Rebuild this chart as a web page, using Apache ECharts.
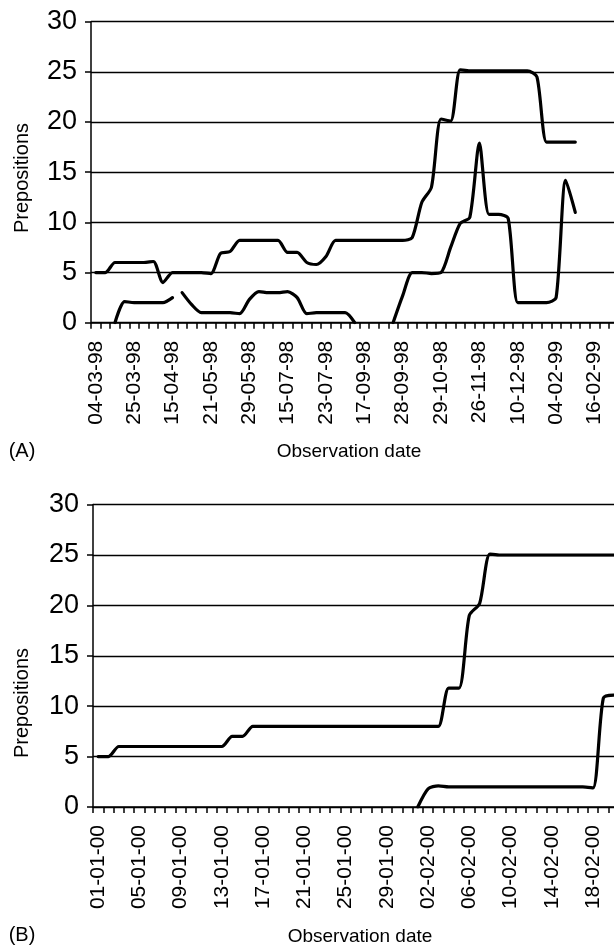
<!DOCTYPE html>
<html>
<head>
<meta charset="utf-8">
<script src="https://cdn.jsdelivr.net/npm/echarts@6/dist/echarts.min.js"></script>
<style>
html,body{margin:0;padding:0;background:#fff;}
#c{width:614px;height:945px;}
</style>
</head>
<body>
<div id="c"></div>
<script>
// ---------- Panel A ----------
var datesA = [
  '04-03-98','','','', '25-03-98','','','', '15-04-98','','','', '21-05-98','','','',
  '29-05-98','','','', '15-07-98','','','', '23-07-98','','','', '17-09-98','','','',
  '28-09-98','','','', '29-10-98','','','', '26-11-98','','','', '10-12-98','','','',
  '04-02-99','','','', '16-02-99','',''
];
var upperA = [5,5,6,6,6,6,6.1,4,5,5,5,5,4.9,6.9,7.1,8.2,8.2,8.2,8.2,8.2,7,7,6,5.8,6.6,8.2,
  8.2,8.2,8.2,8.2,8.2,8.2,8.2,8.5,12,13.5,20.3,20.1,25.2,25.1,25.1,25.1,25.1,25.1,25.1,25.1,
  24.5,18,18,18,18];
var lowerA1 = [null,null,0,2.1,2,2,2,2,2.5];
var lowerA2 = [null,null,null,null,null,null,null,null,null,3.0,1.8,1,1,1,1,0.9,2.3,3.1,3,3,3.1,2.5,
  0.9,1,1,1,1,0,null,null,null,0,2.7,5,5,4.9,5,7.5,9.9,10.5,17.9,10.8,10.8,10.4,2,2,2,2,2.5,14.2,11];

// ---------- Panel B ----------
var datesB = [];
(function(){
  for (var d = 1; d <= 31; d++) datesB.push((d<10?'0':'')+d+'-01-00');
  for (var d2 = 1; d2 <= 22; d2++) datesB.push((d2<10?'0':'')+d2+'-02-00');
})();
var upperB = [5,5,6,6,6,6,6,6,6,6,6,6,6,7,7,8,8,8,8,8,8,8,8,8,8,8,8,8,8,8,8,8,8,8,
  11.8,11.8,19,20.2,25.1,25,25,25,25,25,25,25,25,25,25,25,25,25,25];
var lowerB = [null,null,null,null,null,null,null,null,null,null,null,null,null,null,null,null,
  null,null,null,null,null,null,null,null,null,null,null,null,null,null,null,
  0,1.8,2.1,2,2,2,2,2,2,2,2,2,2,2,2,2,2,1.9,10.8,11.1,11];

var yTicks = [0,5,10,15,20,25,30];

var FONT = '"Liberation Sans", Arial, Helvetica, sans-serif';
var chart = echarts.init(document.getElementById('c'), null, {renderer:'canvas'});

function yAxisCfg(idx){
  return {
    type:'value', gridIndex: idx, min: yTicks[0], max: yTicks[yTicks.length-1], interval: 5,
    axisLine:{show:true, lineStyle:{color:'#000', width:1.5}},
    axisTick:{show:true, inside:false, length:6, lineStyle:{color:'#000', width:1.5}},
    axisLabel:{color:'#000', fontSize:27, fontFamily:FONT, margin:14},
    splitLine:{show:true, lineStyle:{color:'#000', width:1.3}}
  };
}
function xAxisCfg(idx, data){
  return {
    type:'category', gridIndex: idx, data: data, boundaryGap:true,
    axisLine:{show:true, onZero:false, lineStyle:{color:'#000', width:1.5}},
    axisTick:{show:true, interval:0, inside:false, length:6, lineStyle:{color:'#000', width:1.5}},
    axisLabel:{interval:3, rotate:90, color:'#000', fontSize:21, fontFamily:FONT, margin:18, hideOverlap:false},
    splitLine:{show:false}
  };
}
function lineSeries(xi, data){
  return {
    type:'line', xAxisIndex:xi, yAxisIndex:xi, data:data, smooth:0.25, showSymbol:false,
    connectNulls:false, silent:true, animation:false,
    lineStyle:{color:'#000', width:3.2, cap:'round', join:'round'}
  };
}

chart.setOption({
  animation:false,
  backgroundColor:'#fff',
  grid:[
    {left:91, top:21.7, width:55*9.59, height:301, containLabel:false, outerBoundsMode:'none'},
    {left:93, top:504.6, width:53*10.31, height:302.4, containLabel:false, outerBoundsMode:'none'}
  ],
  xAxis:[xAxisCfg(0, datesA), xAxisCfg(1, datesB)],
  yAxis:[yAxisCfg(0), yAxisCfg(1)],
  series:[
    lineSeries(0, upperA),
    lineSeries(0, lowerA1),
    lineSeries(0, lowerA2),
    lineSeries(1, upperB),
    lineSeries(1, lowerB)
  ],
  graphic:[
    {type:'text', x:22, y:178, rotation:Math.PI/2,
     style:{text:'Prepositions', font:'20px '+FONT, fill:'#000', align:'center', verticalAlign:'middle'}},
    {type:'text', x:22, y:703, rotation:Math.PI/2,
     style:{text:'Prepositions', font:'20px '+FONT, fill:'#000', align:'center', verticalAlign:'middle'}},
    {type:'text', x:22, y:451,
     style:{text:'(A)', font:'20px '+FONT, fill:'#000', align:'center', verticalAlign:'middle'}},
    {type:'text', x:349, y:452,
     style:{text:'Observation date', font:'19px '+FONT, fill:'#000', align:'center', verticalAlign:'middle'}},
    {type:'text', x:22, y:935,
     style:{text:'(B)', font:'20px '+FONT, fill:'#000', align:'center', verticalAlign:'middle'}},
    {type:'text', x:360, y:937,
     style:{text:'Observation date', font:'19px '+FONT, fill:'#000', align:'center', verticalAlign:'middle'}}
  ]
});
</script>
</body>
</html>
